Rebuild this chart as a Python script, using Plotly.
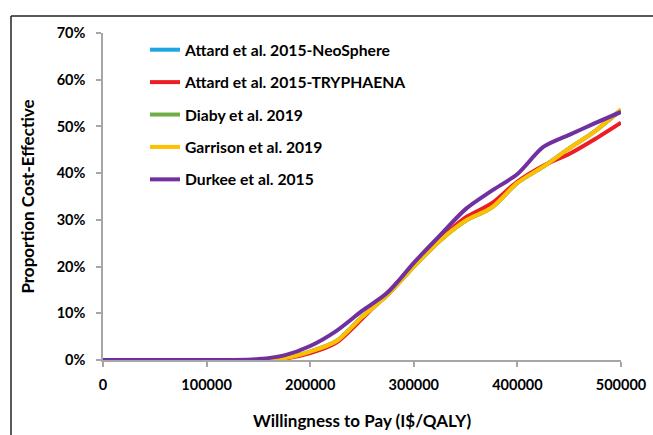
import plotly.graph_objects as go

wtp = [0, 25000, 50000, 75000, 100000, 125000, 150000, 175000, 200000, 225000, 250000,
       275000, 300000, 325000, 350000, 375000, 400000, 425000, 450000, 475000, 500000]

neosphere = [0, 0, 0, 0, 0, 0, 0, 0.4, 1.8, 4.0, 9.2, 14.0, 20.0, 25.5, 29.8, 32.6, 37.9, 41.4, 45.3, 49.0, 53.5]
tryphaena = [0, 0, 0, 0, 0, 0, 0, 0.3, 1.5, 3.7, 8.8, 14.5, 20.3, 25.8, 30.5, 33.5, 38.2, 41.6, 44.1, 47.3, 50.8]
diaby = [0, 0, 0, 0, 0, 0, 0, 0.4, 1.8, 4.0, 9.2, 14.0, 20.0, 25.5, 29.8, 32.6, 37.9, 41.4, 45.3, 49.0, 53.6]
garrison = [0, 0, 0, 0, 0, 0, 0, 0.4, 1.8, 4.0, 9.2, 14.0, 20.0, 25.5, 29.8, 32.6, 37.9, 41.4, 45.3, 49.0, 53.6]
durkee = [0, 0, 0, 0, 0, 0, 0.2, 1.0, 3.0, 6.2, 10.5, 14.5, 20.8, 26.6, 32.3, 36.2, 39.8, 45.6, 48.2, 50.7, 53.1]

x_ticks = [0, 100000, 200000, 300000, 400000, 500000]
x_tick_labels = ["0", "100000", "200000", "300000", "400000", "500000"]
y_ticks = [0, 10, 20, 30, 40, 50, 60, 70]
y_tick_labels = ["0%", "10%", "20%", "30%", "40%", "50%", "60%", "70%"]

names = ["Attard et al. 2015-NeoSphere", "Attard et al. 2015-TRYPHAENA",
         "Diaby et al. 2019", "Garrison et al. 2019", "Durkee et al. 2015"]
colors = ["#1FA5E0", "#EE1C24", "#70AD47", "#FFC000", "#7030A0"]
series = [neosphere, tryphaena, diaby, garrison, durkee]

FONT = "Lato"

fig = go.Figure()
for i, (nm, col, ys) in enumerate(zip(names, colors, series)):
    fig.add_trace(go.Scatter(
        x=wtp, y=ys, name=nm, mode="lines",
        line=dict(color=col, width=4, shape="spline", smoothing=0.8),
        legendgroup=f"g{i}", hoverinfo="skip"))

# plot area geometry (pixels)
L, R, T, B = 103, 32, 33, 75
W, H = 653, 435
pw, ph = W - L - R, H - T - B

def px(x):
    return (x - L) / pw

def py(y):
    return (H - B - y) / ph

fig.add_shape(type="line", xref="paper", yref="paper",
              x0=px(11), x1=px(660), y0=py(16), y1=py(16),
              line=dict(color="#222222", width=1.5))
fig.add_shape(type="line", xref="paper", yref="paper",
              x0=px(11), x1=px(11), y0=py(16), y1=py(440),
              line=dict(color="#222222", width=1.5))

tick_font = dict(family=FONT, size=14.5, color="black", weight="bold")
title_font = dict(family=FONT, size=17, color="black", weight="bold")

fig.update_layout(
    width=W, height=H,
    margin=dict(l=L, r=R, t=T, b=B, autoexpand=False),
    paper_bgcolor="white", plot_bgcolor="white",
    font=dict(family=FONT, size=15, color="black", weight="bold"),
    showlegend=True,
    legend=dict(x=px(145), y=py(33), xanchor="left", yanchor="top",
                bgcolor="rgba(0,0,0,0)", tracegroupgap=9,
                font=dict(family=FONT, size=15.7, color="black", weight="bold")),
    xaxis=dict(range=[0, 500000], tickvals=x_ticks, ticktext=x_tick_labels,
               showgrid=False, zeroline=False, automargin=False,
               showline=True, linecolor="#A6A6A6", linewidth=1.5,
               ticks="outside", ticklen=5, tickcolor="#A6A6A6", tickwidth=1.5,
               ticklabelstandoff=6, tickfont=tick_font,
               title=dict(text="Willingness to Pay (I$/QALY)", font=title_font, standoff=23)),
    yaxis=dict(range=[0, 70], tickvals=y_ticks, ticktext=y_tick_labels,
               showgrid=False, zeroline=False, automargin=False,
               showline=True, linecolor="#A6A6A6", linewidth=1.5,
               ticks="outside", ticklen=5, tickcolor="#A6A6A6", tickwidth=1.5,
               ticklabelstandoff=8, tickfont=tick_font,
               title=dict(text="Proportion Cost-Effective", font=title_font, standoff=18)),
)

fig.write_html("out.html")
